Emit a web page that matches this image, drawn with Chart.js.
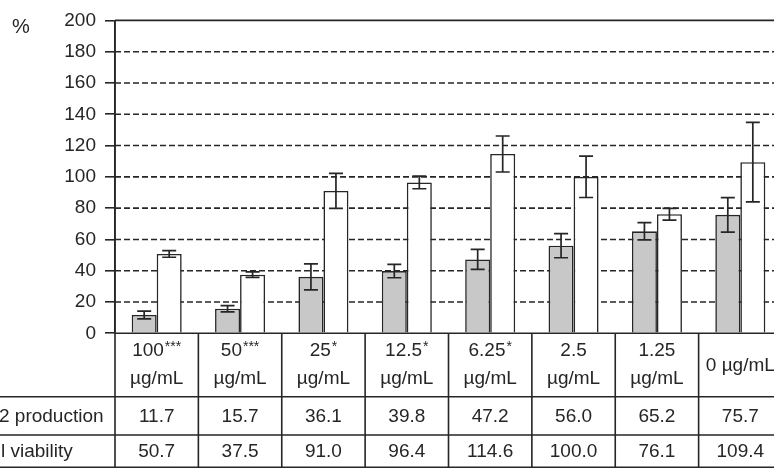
<!DOCTYPE html>
<html>
<head>
<meta charset="utf-8">
<script src="https://cdn.jsdelivr.net/npm/chart.js@4.4.1/dist/chart.umd.min.js"></script>
<style>
  html, body { margin: 0; padding: 0; background: #fff; overflow: hidden; }
  #wrap { position: relative; width: 790px; height: 474px; }
</style>
</head>
<body>
<div id="wrap"><canvas id="chart" width="790" height="474"></canvas></div>
<script>
// doses (µg/mL) and their significance marks
const doses = ['100', '50', '25', '12.5', '6.25', '2.5', '1.25', '0'];
const significance = ['***', '***', '*', '*', '*', '', '', ''];
const unit = 'µg/mL';

// grey bars / first table row
const productionValues = [11.7, 15.7, 36.1, 39.8, 47.2, 56.0, 65.2, 75.7];
const productionErrors = [2.5, 2.0, 8.3, 4.3, 6.4, 7.7, 5.5, 11.0];
// white bars / second table row
const viabilityValues = [50.7, 37.5, 91.0, 96.4, 114.6, 100.0, 76.1, 109.4];
const viabilityErrors = [2.1, 1.8, 11.2, 4.0, 11.5, 13.2, 3.7, 25.4];

const rowLabels = ['2 production', 'l viability'];
const yMax = 200;
const yStep = 20;
const yUnit = '%';

const ink = '#262626';
const family = "'Liberation Sans', Arial, sans-serif";

const dashedGrid = {
  id: 'dashedGrid',
  beforeDatasetsDraw(chart) {
    const { ctx, chartArea: a, scales: { y } } = chart;
    ctx.save();
    ctx.strokeStyle = ink;
    ctx.lineWidth = 1.6;
    y.ticks.forEach(t => {
      if (t.value === 0) return;
      const py = y.getPixelForValue(t.value);
      ctx.setLineDash(t.value === yMax ? [] : [6, 3]);
      ctx.beginPath();
      ctx.moveTo(a.left, py);
      ctx.lineTo(a.right, py);
      ctx.stroke();
    });
    ctx.restore();
  }
};

const errorBars = {
  id: 'errorBars',
  afterDatasetsDraw(chart) {
    const { ctx, scales: { y } } = chart;
    ctx.save();
    ctx.strokeStyle = ink;
    ctx.lineWidth = 1.7;
    chart.data.datasets.forEach((ds, i) => {
      chart.getDatasetMeta(i).data.forEach((bar, j) => {
        const top = y.getPixelForValue(ds.data[j] + ds.errors[j]);
        const bot = y.getPixelForValue(ds.data[j] - ds.errors[j]);
        ctx.beginPath();
        ctx.moveTo(bar.x, top); ctx.lineTo(bar.x, bot);
        ctx.moveTo(bar.x - 7, top); ctx.lineTo(bar.x + 7, top);
        ctx.moveTo(bar.x - 7, bot); ctx.lineTo(bar.x + 7, bot);
        ctx.stroke();
      });
    });
    ctx.restore();
  }
};

const dataTable = {
  id: 'dataTable',
  afterDraw(chart) {
    const { ctx, chartArea: a, scales: { x } } = chart;
    const b = a.bottom;
    const lines = [b + 63.4, b + 101.7, b + 134];
    const step = (a.right - a.left) / doses.length;
    ctx.save();
    ctx.strokeStyle = ink;
    ctx.lineWidth = 1.6;

    ctx.beginPath();
    ctx.moveTo(a.left, b); ctx.lineTo(a.right, b);
    lines.forEach(ly => { ctx.moveTo(0, ly); ctx.lineTo(a.right, ly); });
    for (let i = 0; i <= doses.length; i++) {
      const px = a.left + i * step;
      ctx.moveTo(px, i === 0 ? a.top : b);
      ctx.lineTo(px, lines[2]);
    }
    ctx.stroke();

    ctx.fillStyle = ink;
    ctx.textBaseline = 'middle';
    const big = `19px ${family}`;
    const small = `14px ${family}`;

    doses.forEach((d, i) => {
      const cx = x.getPixelForValue(i);
      ctx.font = big;
      ctx.textAlign = 'center';
      if (d === '0') {
        ctx.fillText(`${d} ${unit}`, cx, b + 32);
      } else {
        const wNum = ctx.measureText(d).width;
        ctx.font = small;
        const wMark = ctx.measureText(significance[i]).width + (significance[i] ? 1 : 0);
        const start = cx - (wNum + wMark) / 2;
        ctx.textAlign = 'left';
        ctx.font = big;
        ctx.fillText(d, start, b + 17);
        ctx.font = small;
        ctx.fillText(significance[i], start + wNum + 1, b + 14);
        ctx.font = big;
        ctx.textAlign = 'center';
        ctx.fillText(unit, cx, b + 45);
      }
      ctx.fillText(productionValues[i].toFixed(1), cx, b + 83);
      ctx.fillText(viabilityValues[i].toFixed(1), cx, b + 118);
    });

    ctx.textAlign = 'left';
    ctx.fillText(rowLabels[0], -1, b + 83);
    ctx.fillText(rowLabels[1], 1, b + 118);

    ctx.font = `20px ${family}`;
    ctx.fillText(yUnit, 12, a.top + 7);
    ctx.restore();
  }
};

new Chart(document.getElementById('chart'), {
  type: 'bar',
  data: {
    labels: doses,
    datasets: [
      {
        data: productionValues,
        errors: productionErrors,
        backgroundColor: '#c8c8c8',
        borderColor: ink,
        borderWidth: 1.6,
        categoryPercentage: 0.6,
        barPercentage: 1
      },
      {
        data: viabilityValues,
        errors: viabilityErrors,
        backgroundColor: '#ffffff',
        borderColor: ink,
        borderWidth: 1.6,
        categoryPercentage: 0.6,
        barPercentage: 1
      }
    ]
  },
  options: {
    responsive: false,
    animation: false,
    layout: { padding: { top: 20, right: 8, bottom: 140.7, left: 0 } },
    plugins: { legend: { display: false }, tooltip: { enabled: false } },
    scales: {
      x: { display: false },
      y: {
        min: 0,
        max: yMax,
        ticks: { stepSize: yStep, color: ink, padding: 9, font: { family, size: 19 } },
        grid: { drawOnChartArea: false, tickLength: 10, color: ink, lineWidth: 1.6 },
        border: { color: ink, width: 1.6 },
        afterFit(scale) { scale.width = 115; }
      }
    }
  },
  plugins: [dashedGrid, errorBars, dataTable]
});
</script>
</body>
</html>
